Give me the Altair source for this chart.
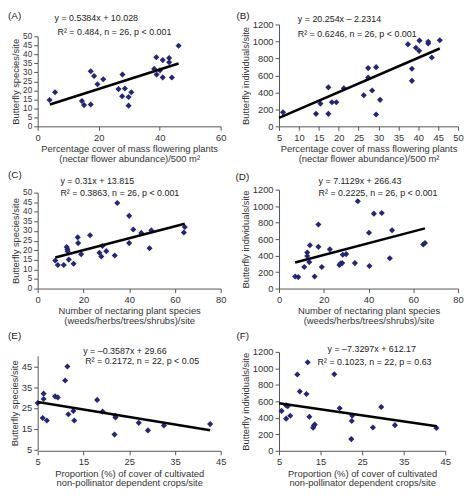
import altair as alt
import pandas as pd

# ---------------- data ----------------
A_x = [3.9, 5.7, 14.5, 15.2, 17.4, 17.4, 18.5, 19.6, 21.5, 26.5, 27.8, 27.7, 28.6, 29.8, 29.8, 30.7, 38.2, 38.9, 39.0, 40.1, 41.0, 41.0, 43.1, 43.1, 44.0, 46.2]
A_y = [14.6, 18.9, 14.1, 11.8, 12.1, 30.6, 28.0, 23.4, 26.2, 20.7, 28.8, 16.7, 21.0, 16.3, 11.5, 18.9, 31.9, 38.4, 28.8, 31.1, 36.8, 27.2, 38.0, 35.6, 27.1, 44.8]

B_x = [6.0, 14.3, 15.4, 17.4, 17.4, 18.3, 19.4, 21.3, 26.3, 27.4, 27.4, 28.4, 29.4, 29.4, 30.4, 37.4, 38.4, 38.4, 39.4, 40.2, 40.3, 42.5, 42.5, 43.4, 45.4]
B_y = [165, 147, 268, 459, 147, 283, 283, 448, 367, 576, 686, 422, 697, 140, 312, 966, 679, 536, 925, 889, 1010, 975, 995, 811, 1014]

C_x = [7.7, 8.8, 11.4, 12.7, 13.0, 13.1, 13.6, 15.7, 17.5, 17.7, 19.0, 22.9, 27.0, 27.8, 28.3, 30.0, 33.7, 34.8, 40.0, 40.0, 41.8, 45.3, 48.9, 49.7, 63.9, 64.3]
C_y = [14.6, 12.3, 12.3, 21.7, 20.5, 19.4, 15.1, 12.9, 26.7, 23.7, 17.9, 27.8, 18.7, 16.7, 22.2, 19.5, 17.2, 44.6, 37.9, 23.7, 30.8, 29.0, 21.0, 30.3, 29.2, 32.1]

D_x = [7.2, 8.6, 11.3, 12.6, 12.6, 13.5, 13.8, 15.9, 17.6, 17.6, 19.1, 22.7, 27.0, 27.4, 28.2, 28.5, 30.0, 33.9, 35.2, 40.2, 40.4, 42.4, 45.9, 49.5, 50.5, 64.4, 65.2]
D_y = [146, 139, 262, 437, 395, 321, 526, 146, 778, 506, 262, 476, 286, 302, 309, 410, 418, 309, 1060, 677, 274, 909, 917, 367, 708, 534, 553]

E_x = [5.0, 6.1, 6.3, 6.3, 7.0, 8.8, 9.4, 11.0, 11.5, 11.7, 12.8, 13.0, 18.0, 19.2, 22.0, 22.0, 21.8, 27.1, 29.1, 32.6, 42.7]
E_y = [27.4, 20.2, 31.9, 29.3, 19.0, 30.6, 30.1, 38.2, 44.9, 22.0, 23.6, 19.0, 28.9, 23.3, 21.3, 20.5, 12.3, 17.9, 14.3, 16.6, 17.3]

F_x = [5.6, 6.7, 6.7, 7.1, 7.7, 9.4, 10.0, 11.6, 11.9, 12.3, 13.2, 13.4, 13.6, 18.3, 19.6, 22.6, 22.5, 22.4, 27.6, 29.6, 32.9, 42.9]
F_y = [484, 390, 551, 540, 425, 925, 720, 689, 1075, 413, 280, 307, 319, 929, 516, 425, 362, 142, 283, 531, 311, 276]

# regression equations (slope, intercept) and the x-extent of each fitted line
slopes = [0.5384, 20.254, 0.31, 7.1129, -0.3587, -7.3297]
intercepts = [10.028, -2.2314, 13.815, 266.43, 29.66, 612.17]
line_x0 = [4.0, 5.0, 7.7, 7.2, 5.0, 5.0]
line_x1 = [46.2, 45.4, 64.3, 65.2, 42.7, 43.0]

panel_labels = ["(A)", "(B)", "(C)", "(D)", "(E)", "(F)"]
eq_line1 = ["y = 0.5384x + 10.028", "y = 20.254x \u2013 2.2314", "y = 0.31x + 13.815",
            "y = 7.1129x + 266.43", "y = \u20130.3587x + 29.66", "y = \u20137.3297x + 612.17"]
eq_line2 = ["R\u00b2 = 0.484, n = 26, p < 0.001", "R\u00b2 = 0.6246, n = 26, p < 0.001",
            "R\u00b2 = 0.3863, n = 26, p < 0.001", "R\u00b2 = 0.2225, n = 26, p < 0.001",
            "R\u00b2 = 0.2172, n = 22, p < 0.05", "R\u00b2 = 0.1023, n = 22, p = 0.63"]

y_species = "Butterfly species/site"
y_indiv = "Butterfly individuals/site"
x_titles = [
    ["Percentage cover of mass flowering plants", "(nectar flower abundance)/500 m\u00b2"],
    ["Number of nectaring plant species", "(weeds/herbs/trees/shrubs)/site"],
    ["Proportion (%) of cover of cultivated", "non-pollinator dependent crops/site"],
]

NAVY = "#25257f"
FONT = "Liberation Sans"


def text_layer(txt, px, py, size):
    return alt.Chart(pd.DataFrame({"t": [txt]})).mark_text(
        align="left", baseline="middle", fontSize=size, font=FONT, color="#222222"
    ).encode(x=alt.value(px), y=alt.value(py), text="t:N")


def panel(i, xs, ys, xdom, xvals, ydom, yvals, yrange, w, h, xtitle, ytitle,
          lab_pos, eq1_pos, eq2_pos, ylabsize=9.5):
    df = pd.DataFrame({"x": xs, "y": ys})
    x0, x1 = line_x0[i], line_x1[i]
    ldf = pd.DataFrame({"x": [x0, x1],
                        "y": [slopes[i] * x0 + intercepts[i], slopes[i] * x1 + intercepts[i]]})
    if yrange is not None:
        yscale = alt.Scale(domain=ydom, nice=False, zero=False, range=yrange)
    else:
        yscale = alt.Scale(domain=ydom, nice=False, zero=False)
    pts = alt.Chart(df).mark_point(
        shape="diamond", filled=True, size=38, color=NAVY, opacity=1
    ).encode(
        x=alt.X("x:Q", scale=alt.Scale(domain=xdom, nice=False, zero=False),
                axis=alt.Axis(values=xvals, tickCount=60, title=xtitle, format="d",
                              labelOverlap=False, labelFlush=False, labelBound=False)),
        y=alt.Y("y:Q", scale=yscale,
                axis=alt.Axis(values=yvals, tickCount=60, title=ytitle, format="d",
                              labelFontSize=ylabsize,
                              labelOverlap=False, labelFlush=False, labelBound=False)),
    )
    ln = alt.Chart(ldf).mark_line(color="black", strokeWidth=2.6).encode(x="x:Q", y="y:Q")
    return alt.layer(
        pts, ln,
        text_layer(panel_labels[i], lab_pos[0], lab_pos[1], 10),
        text_layer(eq_line1[i], eq1_pos[0], eq1_pos[1], 9),
        text_layer(eq_line2[i], eq2_pos[0], eq2_pos[1], 9),
    ).properties(width=w, height=h)


LW = 185
H1, H2, H3 = 103, 100, 100

pA = panel(0, A_x, A_y, [0, 60], [0, 20, 40, 60], [0, 50], list(range(0, 51, 5)), [H1, 12],
           LW, H1, x_titles[0], y_species, (-30, -9), (17, -6), (20, 8), ylabsize=8.3)
pB = panel(1, B_x, B_y, [5, 50], list(range(5, 51, 5)), [0, 1200], list(range(0, 1201, 200)), None,
           181, H1, x_titles[0], y_indiv, (-43, -9), (19, -5), (19, 10))
pC = panel(2, C_x, C_y, [0, 80], [0, 20, 40, 60, 80], [0, 50], list(range(0, 51, 5)), [H2, 3],
           LW, H2, x_titles[1], y_species, (-30, -15), (23, -9), (23, 3), ylabsize=8.3)
pD = panel(3, D_x, D_y, [0, 80], [0, 20, 40, 60, 80], [0, 1200], list(range(0, 1201, 200)), None,
           181, H2, x_titles[1], y_indiv, (-44, -13), (40, -9), (40, 3))
pE = panel(4, E_x, E_y, [5, 45], [5, 15, 25, 35, 45], [5, 50], [5, 15, 25, 35, 45], [H3 - 1, 4],
           LW, H3, x_titles[2], y_species, (-30, -16), (46, -1), (48, 9))
pF = panel(5, F_x, F_y, [5, 45], [5, 15, 25, 35, 45], [0, 1200], list(range(0, 1201, 200)), None,
           168, H3, x_titles[2], y_indiv, (-43, -16), (49, -3), (39, 10))

chart = alt.concat(
    pA, pB, pC, pD, pE, pF, columns=2, bounds="flush",
    spacing={"row": 64, "column": 59},
).properties(
    padding=0
).configure(font=FONT).configure_view(stroke=None).configure_axis(
    grid=False,
    labelFontSize=9.5,
    labelFont=FONT,
    labelColor="#333333",
    labelPadding=2,
    titleFont=FONT,
    titleFontSize=9.5,
    titleFontWeight="normal",
    titleColor="#333333",
    titlePadding=2,
    titleLineHeight=10,
    domainColor="#555555",
    tickColor="#555555",
    tickSize=4,
)

chart.save("out.html", embed_options={"renderer": "svg", "actions": False})
